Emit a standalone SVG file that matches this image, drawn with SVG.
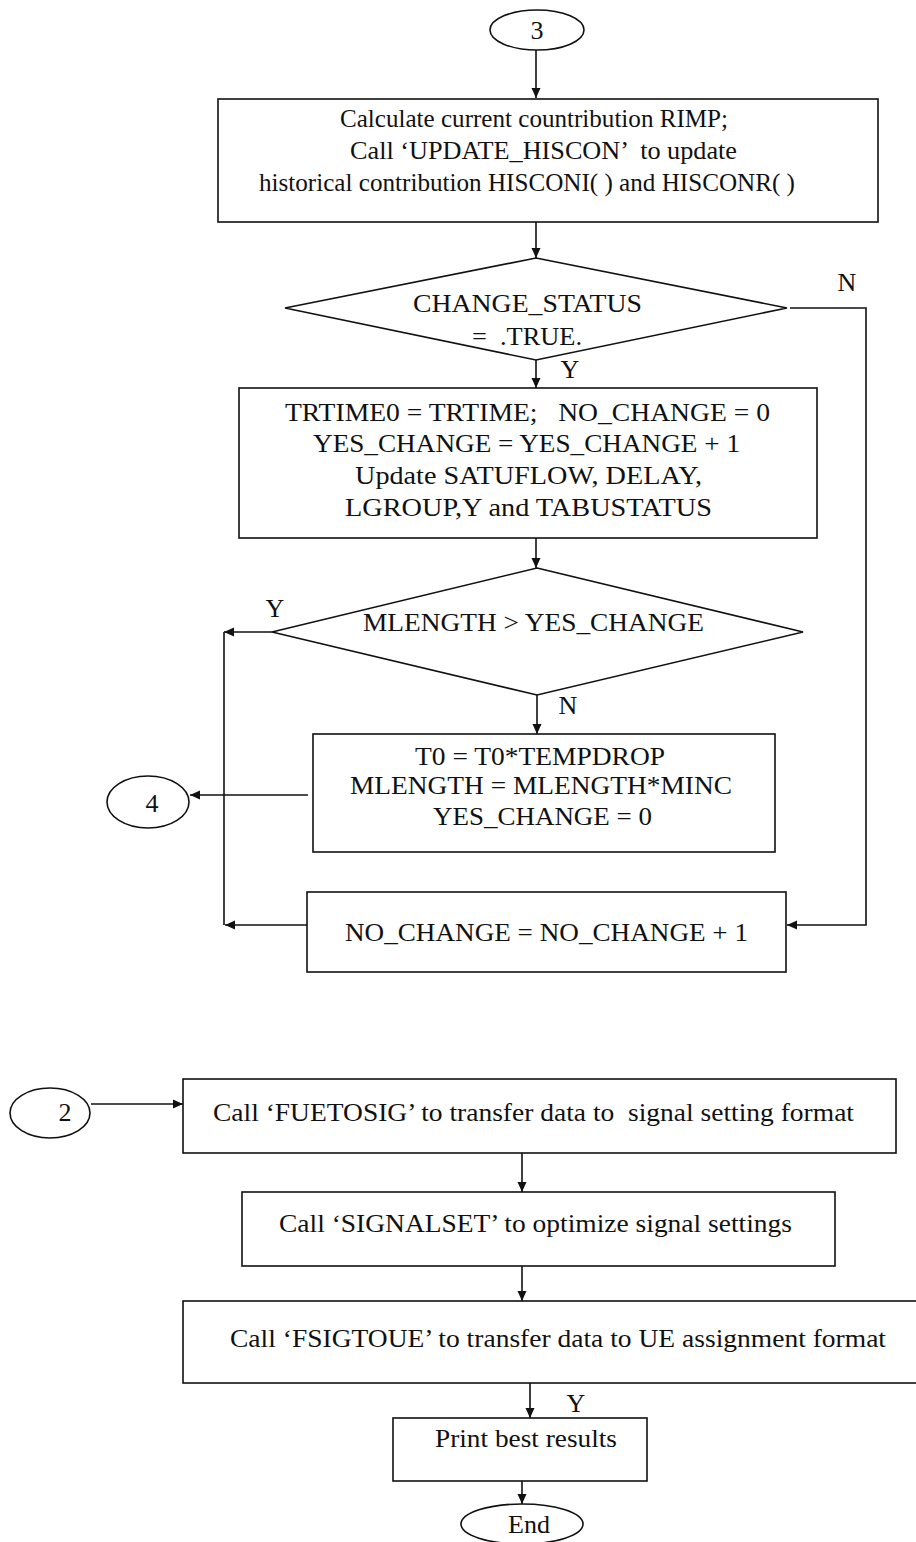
<svg xmlns="http://www.w3.org/2000/svg" width="916" height="1542" viewBox="0 0 916 1542">
<defs>
<style>
.n{fill:#fff;stroke:#111;stroke-width:1.6}
.t{font-family:"Liberation Serif","Times New Roman",serif;font-size:26px;fill:#111;text-anchor:middle}
.l{font-family:"Liberation Serif","Times New Roman",serif;font-size:26px;fill:#111}
.c{fill:none;stroke:#111;stroke-width:1.6}
.a{marker-end:url(#ah)}
</style>
<marker id="ah" viewBox="0 0 10 10" refX="10" refY="5" markerWidth="12" markerHeight="10" markerUnits="userSpaceOnUse" orient="auto">
<path d="M0,0.5 L10,5 L0,9.5 z" fill="#111"/>
</marker>
</defs>
<rect width="916" height="1542" fill="#fff"/>

<g id="connectors">
<path class="c a" d="M536,50 V98"/>
<path class="c a" d="M536,222 V258"/>
<path class="c a" d="M536,360 V388"/>
<path class="c a" d="M790,308 H866 V925 H787"/>
<path class="c a" d="M536,538 V568"/>
<path class="c a" d="M272,632 H224"/>
<path class="c" d="M224,632 V925"/>
<path class="c a" d="M307,925 H225"/>
<path class="c a" d="M537,695 V734"/>
<path class="c a" d="M308,795 H190"/>
<path class="c a" d="M91,1104 H183"/>
<path class="c a" d="M522,1153 V1192"/>
<path class="c a" d="M522,1266 V1301"/>
<path class="c a" d="M530,1383 V1418"/>
<path class="c a" d="M522,1481 V1504"/>
</g>

<g id="labels">
<text class="t" x="847" y="291">N</text>
<text class="t" x="570" y="378">Y</text>
<text class="t" x="275" y="617">Y</text>
<text class="t" x="568" y="714">N</text>
<text class="t" x="576" y="1412">Y</text>
</g>

<g id="c3">
<ellipse class="n" cx="537" cy="30" rx="47" ry="20"/>
<text class="t" x="537" y="39">3</text>
</g>

<g id="calc">
<rect class="n" x="218" y="99" width="660" height="123"/>
<text class="l" x="340" y="127" textLength="388" lengthAdjust="spacingAndGlyphs">Calculate current countribution RIMP;</text>
<text class="l" x="350" y="159" textLength="387" lengthAdjust="spacingAndGlyphs" xml:space="preserve">Call ‘UPDATE_HISCON’  to update</text>
<text class="l" x="259" y="191" textLength="536" lengthAdjust="spacingAndGlyphs">historical contribution HISCONI( ) and HISCONR( )</text>
</g>

<g id="d1">
<polygon class="n" points="536,258 787,308 536,360 285,308"/>
<text class="l" x="413" y="312" textLength="229" lengthAdjust="spacingAndGlyphs">CHANGE_STATUS</text>
<text class="l" x="472" y="345" textLength="110" lengthAdjust="spacingAndGlyphs" xml:space="preserve">=  .TRUE.</text>
</g>

<g id="upd">
<rect class="n" x="239" y="388" width="578" height="150"/>
<text class="l" x="285" y="421" textLength="485" lengthAdjust="spacingAndGlyphs" xml:space="preserve">TRTIME0 = TRTIME;   NO_CHANGE = 0</text>
<text class="l" x="313" y="452" textLength="427" lengthAdjust="spacingAndGlyphs">YES_CHANGE = YES_CHANGE + 1</text>
<text class="l" x="355" y="484" textLength="347" lengthAdjust="spacingAndGlyphs">Update SATUFLOW, DELAY,</text>
<text class="l" x="345" y="516" textLength="367" lengthAdjust="spacingAndGlyphs">LGROUP,Y and TABUSTATUS</text>
</g>

<g id="d2">
<polygon class="n" points="537,568 803,632 537,695 272,632"/>
<text class="l" x="363" y="631" textLength="341" lengthAdjust="spacingAndGlyphs">MLENGTH &gt; YES_CHANGE</text>
</g>

<g id="temp">
<rect class="n" x="313" y="734" width="462" height="118"/>
<text class="l" x="415" y="765" textLength="250" lengthAdjust="spacingAndGlyphs">T0 = T0*TEMPDROP</text>
<text class="l" x="350" y="794" textLength="382" lengthAdjust="spacingAndGlyphs">MLENGTH = MLENGTH*MINC</text>
<text class="l" x="433" y="825" textLength="219" lengthAdjust="spacingAndGlyphs">YES_CHANGE = 0</text>
</g>

<g id="c4">
<ellipse class="n" cx="148" cy="802" rx="41" ry="26"/>
<text class="t" x="152" y="812">4</text>
</g>

<g id="nochange">
<rect class="n" x="307" y="892" width="479" height="80"/>
<text class="l" x="345" y="941" textLength="403" lengthAdjust="spacingAndGlyphs">NO_CHANGE = NO_CHANGE + 1</text>
</g>

<g id="c2">
<ellipse class="n" cx="50" cy="1113" rx="40" ry="25"/>
<text class="t" x="65" y="1121">2</text>
</g>

<g id="fuetosig">
<rect class="n" x="183" y="1079" width="713" height="74"/>
<text class="l" x="213" y="1121" textLength="641" lengthAdjust="spacingAndGlyphs" xml:space="preserve">Call ‘FUETOSIG’ to transfer data to  signal setting format</text>
</g>

<g id="signalset">
<rect class="n" x="242" y="1192" width="593" height="74"/>
<text class="l" x="279" y="1232" textLength="513" lengthAdjust="spacingAndGlyphs">Call ‘SIGNALSET’ to optimize signal settings</text>
</g>

<g id="fsigtoue">
<rect class="n" x="183" y="1301" width="740" height="82"/>
<text class="l" x="230" y="1347" textLength="656" lengthAdjust="spacingAndGlyphs">Call ‘FSIGTOUE’ to transfer data to UE assignment format</text>
</g>

<g id="print">
<rect class="n" x="393" y="1418" width="254" height="63"/>
<text class="l" x="435" y="1447" textLength="182" lengthAdjust="spacingAndGlyphs">Print best results</text>
</g>

<g id="end">
<ellipse class="n" cx="522" cy="1524" rx="61" ry="20"/>
<text class="t" x="529" y="1533">End</text>
</g>
</svg>
